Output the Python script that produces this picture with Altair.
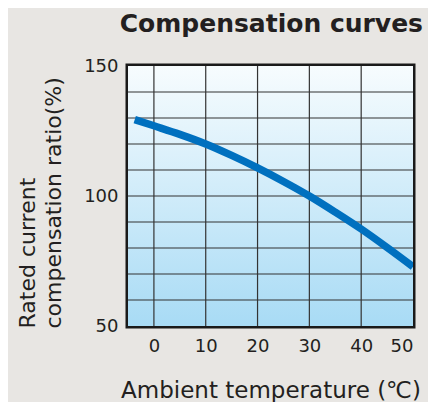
import altair as alt
import pandas as pd

# ---- data ----
temps = [-3.7, 0, 5, 10, 15, 20, 25, 30, 35, 40, 45, 50]
ratio = [129.4, 127.0, 123.7, 120.0, 115.6, 110.8, 105.6, 100.0, 93.8, 87.3, 80.2, 72.8]
x_grid = [0, 10, 20, 30, 40]
y_grid = [60, 70, 80, 90, 100, 110, 120, 130, 140]
x_ticks = [0, 10, 20, 30, 40, 50]
y_ticks = [50, 100, 150]
x_domain = [-5, 50]
y_domain = [50, 150]

FONT = "DejaVu Sans"
TXT = "#231f20"

curve = pd.DataFrame({"t": temps, "r": ratio})
bg = pd.DataFrame({"x": [x_domain[0]], "x2": [x_domain[1]], "y": [y_domain[0]], "y2": [y_domain[1]]})
vgrid = pd.DataFrame({"x": x_grid})
hgrid = pd.DataFrame({"y": y_grid})

xs = alt.Scale(domain=x_domain, nice=False, zero=False)
ys = alt.Scale(domain=y_domain, nice=False, zero=False)

x_axis = alt.Axis(values=x_ticks, grid=False, ticks=False, domain=False,
                  labelFontSize=18, labelPadding=11, labelColor=TXT, labelFont=FONT,
                  title="Ambient temperature (℃)", titleFontSize=23, titleFontWeight="normal",
                  titleFont=FONT, titleColor=TXT, titlePadding=24)
y_axis = alt.Axis(values=y_ticks, grid=False, ticks=False, domain=False,
                  labelFontSize=18, labelPadding=10, labelColor=TXT, labelFont=FONT,
                  title=["Rated current", "compensation ratio(%)"], titleFontSize=22,
                  titleFontWeight="normal", titleFont=FONT, titleColor=TXT,
                  titleAngle=270, titleAlign="left", titleBaseline="bottom",
                  titleX=-89, titleY=262, titleLineHeight=26)

grad = alt.LinearGradient(
    gradient="linear",
    stops=[alt.GradientStop(color="#f7fcfe", offset=0),
           alt.GradientStop(color="#a8dbf5", offset=1)],
    x1=0, x2=0, y1=0, y2=1)

back = alt.Chart(bg).mark_rect(color=grad).encode(
    x=alt.X("x:Q", scale=xs, axis=x_axis),
    x2="x2:Q",
    y=alt.Y("y:Q", scale=ys, axis=y_axis),
    y2="y2:Q",
)

vrules = alt.Chart(vgrid).mark_rule(color="#333333", strokeWidth=1.2).encode(
    x=alt.X("x:Q", scale=xs)
)
hrules = alt.Chart(hgrid).mark_rule(color="#333333", strokeWidth=1.2).encode(
    y=alt.Y("y:Q", scale=ys)
)

line = alt.Chart(curve).mark_line(color="#0070bf", strokeWidth=7.5,
                                  interpolate="monotone", strokeCap="butt", clip=True).encode(
    x=alt.X("t:Q", scale=xs),
    y=alt.Y("r:Q", scale=ys),
)

chart = alt.layer(back, vrules, hrules, line).properties(
    width=285, height=260,
    autosize=alt.AutoSizeParams(type="none"),
    padding={"left": 120, "top": 58, "right": 15, "bottom": 76},
    background="#e8e6e3",
    title=alt.TitleParams("Compensation curves", anchor="end", frame="group",
                          fontSize=25, fontWeight="bold", font=FONT, color=TXT,
                          baseline="alphabetic", offset=0, dx=10),
).configure_view(stroke="#1a1a1a", strokeWidth=5)

chart.save("out.html", embed_options={"renderer": "svg", "actions": False})
